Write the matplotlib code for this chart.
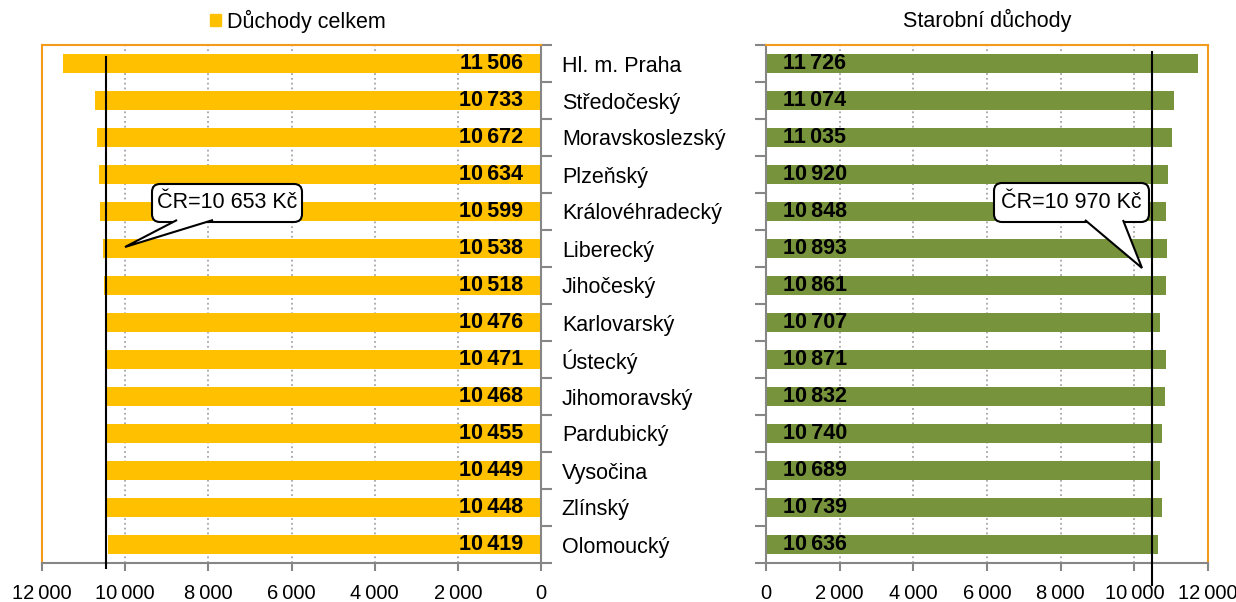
import matplotlib
matplotlib.use("Agg")
import matplotlib.pyplot as plt
from matplotlib.patches import Patch, FancyBboxPatch, Polygon
import numpy as np

plt.rcParams["font.family"] = ["Liberation Sans", "DejaVu Sans"]

kraje = ["Hl. m. Praha", "Středočeský", "Moravskoslezský", "Plzeňský", "Královéhradecký",
         "Liberecký", "Jihočeský", "Karlovarský", "Ústecký", "Jihomoravský",
         "Pardubický", "Vysočina", "Zlínský", "Olomoucký"]
celkem = [11506, 10733, 10672, 10634, 10599, 10538, 10518, 10476, 10471, 10468,
          10455, 10449, 10448, 10419]
starobni = [11726, 11074, 11035, 10920, 10848, 10893, 10861, 10707, 10871, 10832,
            10740, 10689, 10739, 10636]
cr_celkem = 10653
cr_starobni = 10970
xticks = [0, 2000, 4000, 6000, 8000, 10000, 12000]

ŽLUTÁ = "#FFC000"
ZELENÁ = "#77933C"
ORANŽ = "#F59B1C"
ŠEDÁ = "#868686"


def fmt(v, sep=" "):
    return f"{v:,}".replace(",", sep)


W, H = 1236, 602
fig = plt.figure(figsize=(W / 100, H / 100), dpi=100)
ax1 = fig.add_axes([42 / W, 1 - 563 / H, (541 - 42) / W, (563 - 45) / H])
ax2 = fig.add_axes([766 / W, 1 - 563 / H, (1208 - 766) / W, (563 - 45) / H])

y = np.arange(len(kraje))
ax1.barh(y, celkem, height=0.5, color=ŽLUTÁ, zorder=2)
ax2.barh(y, starobni, height=0.5, color=ZELENÁ, zorder=2)

for ax in (ax1, ax2):
    ax.set_ylim(len(kraje) - 0.5, -0.5)
    ax.set_xticks(xticks)
    ax.set_xticklabels([fmt(t, "\u2009") for t in xticks], fontsize=14.5)
    ax.tick_params(axis="x", length=6, color=ŠEDÁ, width=1.5, pad=9)
    ax.set_yticks(np.arange(len(kraje) + 1) - 0.5)
    ax.set_yticklabels([])
    ax.tick_params(axis="y", length=8, color=ŠEDÁ, width=1.5)
    ax.grid(axis="x", color="#A6A6A6", linestyle=":", linewidth=1.3, zorder=0)
    for s in ax.spines.values():
        s.set_linewidth(1.5)
    ax.spines["bottom"].set_color(ŠEDÁ)
    ax.spines["top"].set_color(ORANŽ)

ax1.set_xlim(12000, 0)
ax1.yaxis.tick_right()
ax1.spines["right"].set_color(ŠEDÁ)
ax1.spines["left"].set_color(ORANŽ)
ax1.set_yticks(y, minor=True)
ax1.set_yticklabels(kraje, minor=True, fontsize=15.5)
ax1.tick_params(axis="y", which="minor", length=0, pad=15)

ax2.set_xlim(0, 12000)
ax2.spines["left"].set_color(ŠEDÁ)
ax2.spines["right"].set_color(ORANŽ)

for i, v in enumerate(celkem):
    ax1.text(430, i, fmt(v, "\u2009"), ha="right", va="center", fontsize=15.5,
             fontweight="bold", zorder=3)
for i, v in enumerate(starobni):
    ax2.text(460, i, fmt(v, "\u2009"), ha="left", va="center", fontsize=15.5,
             fontweight="bold", zorder=3)

# svislé čáry průměru ČR
ax1.plot([10470, 10470], [-0.18, 13.64], color="black", lw=1.5, clip_on=False, zorder=4)
ax2.plot([10480, 10480], [-0.31, 14.1], color="black", lw=1.5, clip_on=False, zorder=4)


# bubliny (souřadnice v pixelech obrázku)
def bublina(text, x0, y0, x1, y1, xa, xb, tip):
    tr = fig.dpi_scale_trans
    inch = lambda px, py: (px / 100, (H - py) / 100)
    bx, by = inch(x0, y1)
    fig.patches.append(FancyBboxPatch((bx, by), (x1 - x0) / 100, (y1 - y0) / 100,
                                      boxstyle="round,pad=0,rounding_size=0.08",
                                      fc="white", ec="black", lw=1.5, transform=tr, zorder=5))
    fig.patches.append(Polygon([inch(xa, y1 - 2), inch(*tip), inch(xb, y1 - 2)], closed=False,
                               fc="white", ec="black", lw=1.5, transform=tr, zorder=6))
    fig.text((x0 + x1) / 2 / W, 1 - (y0 + y1) / 2 / H, text, ha="center", va="center",
             fontsize=15.5, zorder=7)


bublina(f"ČR={fmt(cr_celkem)} Kč", 152, 184, 302, 222, 177, 213, (125, 247))
bublina(f"ČR={fmt(cr_starobni)} Kč", 994, 183, 1149, 222, 1085, 1123, (1142, 268))

ax2.set_title("Starobní důchody", fontsize=15.5, pad=13)
fig.legend(handles=[Patch(color=ŽLUTÁ)], labels=["Důchody celkem"], loc="center",
           bbox_to_anchor=(298 / W, 1 - 21 / H), frameon=False, fontsize=15.5,
           handlelength=0.5, handleheight=0.5, handletextpad=0.3)

fig.savefig("out.png", dpi=100)
